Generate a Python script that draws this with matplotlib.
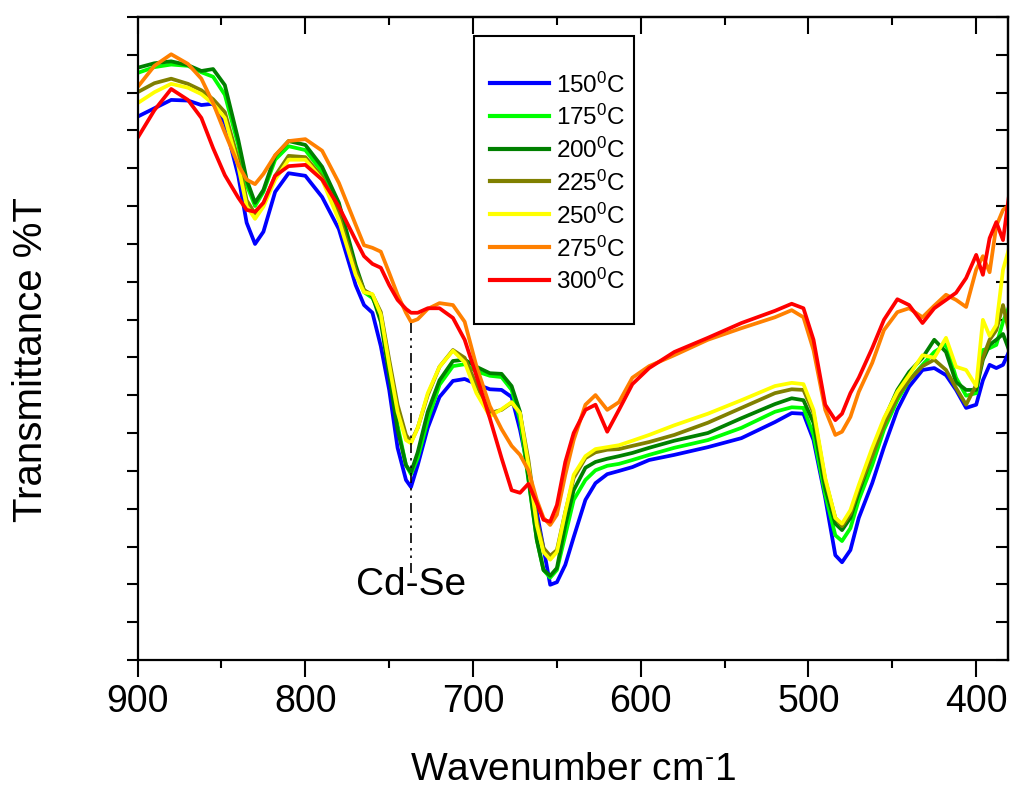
import matplotlib
matplotlib.use('Agg')
import matplotlib.pyplot as plt
from matplotlib.patches import Rectangle
import numpy as np

plt.rcParams['font.family'] = ['Liberation Sans', 'DejaVu Sans']
plt.rcParams['mathtext.fontset'] = 'custom'
plt.rcParams['mathtext.rm'] = 'Liberation Sans'
plt.rcParams['mathtext.it'] = 'Liberation Sans:italic'
plt.rcParams['mathtext.bf'] = 'Liberation Sans:bold'

# wavenumber grid (cm-1)
wavenumber = [900, 890, 880, 870, 862, 855, 848, 840, 835, 830,
              825, 818, 810, 800, 790, 780, 770, 765, 760, 755,
              750, 745, 740, 737, 733, 727, 720, 712, 705, 698,
              690, 683, 677, 672, 667, 662, 658, 654, 650, 645,
              640, 633, 627, 620, 613, 605, 595, 580, 560, 540,
              520, 510, 503, 497, 490, 484, 480, 475, 470, 462,
              455, 447, 440, 432, 425, 418, 412, 406, 400, 396,
              392, 388, 384, 380]

# transmittance (%T) for each annealing temperature
t150 = [84.5, 85.8, 87.1, 87.0, 86.3, 86.5, 83.5, 75.3, 68.0, 64.7,
        66.6, 72.8, 75.7, 75.3, 72.0, 67.0, 58.3, 55.2, 54.0, 48.8,
        42.0, 33.0, 28.0, 26.9, 30.3, 36.1, 40.9, 43.4, 43.7, 42.9,
        42.1, 42.0, 40.9, 35.8, 29.5, 23.0, 17.4, 11.7, 12.1, 14.8,
        19.1, 24.9, 27.5, 28.9, 29.4, 30.0, 31.1, 31.9, 33.1, 34.5,
        37.0, 38.4, 38.3, 34.2, 25.2, 16.3, 15.2, 17.1, 22.1, 27.5,
        33.1, 38.9, 42.5, 45.1, 45.4, 44.3, 42.0, 39.2, 39.7, 43.5,
        45.9, 45.4, 45.9, 48.2]
t175 = [91.3, 92.2, 92.6, 92.4, 91.4, 90.7, 87.9, 80.1, 73.9, 70.6,
        72.8, 77.8, 79.9, 79.3, 75.9, 70.0, 60.7, 57.2, 56.3, 53.7,
        45.9, 36.5, 30.3, 28.9, 31.4, 37.3, 42.8, 45.7, 46.0, 44.9,
        44.2, 44.0, 42.0, 37.3, 28.0, 18.7, 14.0, 12.8, 14.0, 19.4,
        24.9, 28.0, 29.5, 30.2, 30.5, 31.1, 31.9, 33.0, 34.2, 36.1,
        38.6, 39.3, 39.2, 35.0, 25.7, 19.4, 18.5, 20.5, 24.9, 30.3,
        35.8, 40.4, 43.5, 45.9, 47.9, 49.1, 43.9, 41.1, 41.5, 48.2,
        48.5, 49.0, 52.6, 55.2]
t200 = [92.1, 92.8, 93.1, 92.5, 91.6, 91.9, 89.4, 80.9, 74.7, 71.1,
        73.1, 78.4, 80.7, 80.1, 76.7, 71.1, 61.4, 57.5, 56.6, 52.6,
        44.3, 35.8, 30.3, 29.2, 32.3, 38.6, 43.5, 46.5, 46.7, 45.6,
        44.6, 44.5, 42.6, 38.6, 28.3, 18.7, 14.0, 13.1, 14.3, 21.0,
        26.4, 29.9, 30.8, 31.3, 31.7, 32.2, 33.0, 34.1, 35.3, 37.6,
        39.8, 40.7, 40.4, 36.9, 26.7, 21.2, 20.2, 22.1, 26.1, 31.9,
        37.3, 42.0, 44.8, 47.0, 49.8, 47.9, 43.2, 42.0, 42.0, 46.7,
        49.0, 49.8, 50.7, 47.9]
t225 = [88.3, 89.7, 90.4, 89.6, 88.6, 87.2, 85.2, 77.8, 71.5, 69.4,
        70.9, 75.3, 78.4, 78.2, 75.1, 69.2, 60.7, 57.5, 56.8, 54.1,
        46.7, 39.7, 35.0, 33.9, 36.1, 41.2, 45.6, 48.2, 47.0, 42.8,
        38.4, 38.9, 40.0, 38.4, 31.1, 21.8, 17.4, 16.2, 17.1, 23.0,
        28.3, 31.4, 32.3, 32.7, 32.8, 33.3, 33.9, 35.0, 36.9, 39.2,
        41.5, 42.1, 42.0, 38.4, 28.0, 22.1, 20.8, 22.7, 26.7, 31.7,
        36.5, 40.9, 43.5, 45.7, 46.7, 45.1, 42.3, 39.7, 42.8, 47.0,
        49.8, 51.3, 55.2, 50.5]
t250 = [86.6, 88.3, 89.6, 89.0, 88.0, 86.5, 84.3, 76.8, 70.6, 68.6,
        70.5, 74.7, 77.8, 77.8, 74.7, 68.4, 59.9, 57.2, 56.9, 53.7,
        45.9, 38.6, 34.2, 33.7, 36.1, 41.5, 45.6, 48.1, 46.3, 41.5,
        37.9, 39.0, 40.1, 38.4, 30.3, 21.0, 16.8, 15.6, 16.8, 23.0,
        28.8, 31.7, 32.8, 33.1, 33.4, 34.1, 35.0, 36.5, 38.3, 40.4,
        42.6, 43.1, 42.9, 38.9, 28.3, 22.1, 21.2, 23.3, 27.2, 33.0,
        37.6, 41.7, 44.3, 47.4, 47.0, 50.1, 45.6, 45.1, 42.6, 52.9,
        50.4, 52.1, 60.7, 64.4]
t275 = [89.1, 92.4, 94.2, 92.7, 90.4, 86.6, 82.0, 77.0, 74.7, 74.0,
        75.6, 78.5, 80.7, 81.0, 79.2, 74.2, 67.7, 64.5, 64.1, 63.5,
        60.2, 56.8, 54.0, 52.6, 53.0, 54.6, 55.5, 55.2, 52.6, 45.7,
        39.5, 35.9, 33.3, 31.9, 29.5, 24.9, 22.1, 21.0, 22.6, 28.8,
        34.2, 39.7, 41.2, 38.9, 40.1, 43.9, 45.7, 47.4, 49.8, 51.6,
        53.3, 54.4, 53.3, 48.2, 38.9, 35.0, 35.5, 37.8, 41.7, 46.2,
        51.3, 54.1, 54.7, 53.3, 55.1, 56.8, 56.0, 54.9, 60.7, 62.8,
        60.3, 67.5, 70.0, 70.8]
t300 = [81.2, 85.5, 88.8, 87.1, 84.3, 79.6, 75.4, 71.9, 70.0, 69.7,
        71.1, 75.3, 76.8, 77.0, 74.7, 70.5, 65.3, 62.8, 61.6, 61.0,
        58.3, 56.0, 54.6, 54.0, 54.0, 54.7, 54.7, 53.2, 49.8, 44.2,
        37.6, 31.4, 26.4, 26.0, 27.4, 24.4, 21.8, 21.5, 24.1, 30.8,
        35.3, 38.9, 39.7, 35.5, 38.9, 42.9, 45.4, 47.9, 50.1, 52.4,
        54.3, 55.4, 54.7, 49.8, 39.7, 37.3, 38.3, 41.5, 43.9, 48.5,
        52.9, 56.1, 55.2, 52.4, 54.7, 56.0, 57.1, 59.4, 63.0, 59.9,
        65.6, 68.1, 65.3, 73.1]

series = [t150, t175, t200, t225, t250, t275, t300]
labels = ['150$^0$C', '175$^0$C', '200$^0$C', '225$^0$C',
          '250$^0$C', '275$^0$C', '300$^0$C']
colors = ['#0000FF', '#00FF00', '#008000', '#808000',
          '#FFFF00', '#FF8000', '#FF0000']

# Cd-Se band marker
cdse_x = 737
cdse_span = (13.5, 53.2)

fig = plt.figure(figsize=(10.12, 7.89), dpi=100)
ax = fig.add_axes([0.136, 0.1635, 0.8601, 0.815])

lines = []
for ys, col in zip(series, colors):
    ln, = ax.plot(wavenumber, ys, color=col, lw=2.7,
                  solid_joinstyle='round', solid_capstyle='round')
    lines.append(ln)

ax.set_xlim(900, 381)
ax.set_ylim(0, 100)

major_x = [900, 800, 700, 600, 500, 400]
minor_x = [850, 750, 650, 550, 450]
ax.set_xticks(major_x)
ax.set_xticks(minor_x, minor=True)
ax.set_yticks(np.linspace(0, 100, 18))
ax.set_yticklabels([])
ax.tick_params(axis='x', which='major', direction='out', length=12, width=1.5,
               labelsize=27, pad=5)
ax.tick_params(axis='x', which='minor', direction='out', length=6, width=1.5)
ax.tick_params(axis='y', direction='out', length=8, width=1.5)
for s in ax.spines.values():
    s.set_linewidth(1.6)

# mirrored ticks pointing inward on top and right
top = ax.secondary_xaxis('top')
top.set_xticks(major_x)
top.set_xticks(minor_x, minor=True)
top.set_xticklabels([])
top.tick_params(axis='x', which='major', direction='in', length=12, width=1.5)
top.tick_params(axis='x', which='minor', direction='in', length=6, width=1.5)
right = ax.secondary_yaxis('right')
right.set_yticks(np.linspace(0, 100, 18))
right.set_yticklabels([])
right.tick_params(axis='y', direction='in', length=9, width=1.5)
for a in (top, right):
    for s in a.spines.values():
        s.set_linewidth(1.6)

ax.set_xlabel(r'Wavenumber cm$^{\text{-}}$1', fontsize=28)
ax.xaxis.label.set_va('baseline')
ax.xaxis.set_label_coords(0.5, -0.186)
ax.set_ylabel('Transmittance %T', fontsize=29)
ax.yaxis.label.set_va('center')
ax.yaxis.set_label_coords(-0.1225, 0.467)

ax.plot([cdse_x, cdse_x], cdse_span, color='black', lw=1.2,
        linestyle=(0, (6, 3, 1.5, 3, 1.5, 3)))
ax.text(cdse_x, 10.1, 'Cd-Se', fontsize=28, ha='center', va='baseline')

# legend box drawn by hand to match the layout
box = Rectangle((0.3865, 0.5226), 0.1838, 0.4479, transform=ax.transAxes,
                fill=False, edgecolor='black', lw=1.5, zorder=5)
ax.add_patch(box)
row0 = 0.8974
step = 0.0510
for i, (ln, lab) in enumerate(zip(lines, labels)):
    y = row0 - i * step
    ax.plot([0.4049, 0.4727], [y, y], transform=ax.transAxes,
            color=ln.get_color(), lw=3, zorder=6)
    ax.text(0.4807, y - 0.015, lab, transform=ax.transAxes, fontsize=17.5,
            va='baseline', ha='left', zorder=6)

fig.savefig('out.png', dpi=100)
